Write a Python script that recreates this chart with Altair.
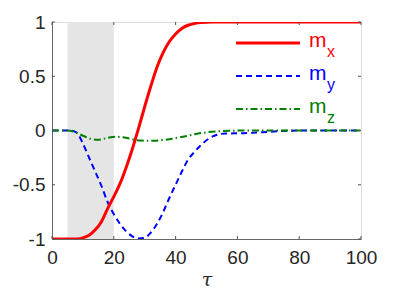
import altair as alt
import pandas as pd

# ---- data ----
mx_t = [0, 8, 10, 12, 14, 16, 18, 20, 22, 24, 26, 28, 30, 32, 34, 36, 38, 40, 42, 44, 46, 48, 52, 60, 100]
mx_v = [-1, -1, -0.99, -0.965, -0.915, -0.84, -0.72, -0.61, -0.49, -0.34, -0.17, 0.02, 0.22, 0.41,
        0.585, 0.72, 0.82, 0.89, 0.94, 0.97, 0.985, 0.995, 1, 1, 1]

my_t = [0, 6, 8, 10, 12, 14, 16, 18, 20, 22, 24, 26, 28, 30, 32, 34, 36, 38, 40, 42, 44, 46,
        48, 50, 52, 54, 56, 62, 68, 74, 80, 100]
my_v = [0, 0, -0.02, -0.12, -0.25, -0.38, -0.51, -0.66, -0.77, -0.86, -0.93, -0.975, -0.995,
        -0.99, -0.94, -0.86, -0.75, -0.62, -0.5, -0.38, -0.27, -0.2, -0.14, -0.09, -0.055,
        -0.035, -0.028, -0.025, -0.016, -0.005, 0, 0]

mz_t = [0, 5, 7, 9, 11, 13, 15, 17, 19, 21, 23, 25, 27, 29, 31, 33, 35, 38, 41, 44, 47, 50,
        54, 58, 65, 100]
mz_v = [0, 0, -0.01, -0.035, -0.06, -0.08, -0.085, -0.075, -0.063, -0.058, -0.062, -0.075,
        -0.087, -0.093, -0.095, -0.094, -0.09, -0.08, -0.065, -0.048, -0.03, -0.017, -0.007,
        -0.002, 0, 0]

shade_start = [5]
shade_end = [20]

x_ticks = [0, 20, 40, 60, 80, 100]
y_ticks = [-1, -0.5, 0, 0.5, 1]

legend_main = ["m", "m", "m"]
legend_sub = ["x", "y", "z"]
series_colors = ["#ff0000", "#0000ff", "#008000"]

W, H = 309, 217
FONT = "Liberation Sans"
AXC = "#262626"

xs = alt.Scale(domain=[0, 100], nice=False)
ys = alt.Scale(domain=[-1, 1], nice=False)

x_axis = alt.Axis(values=x_ticks, tickSize=0, grid=False, labelFontSize=19, labelFont=FONT,
                  labelColor=AXC, labelPadding=9, labelFlush=False, labelOverlap=False,
                  domainColor="#666666", title="τ",
                  titleFont="DejaVu Serif", titleFontSize=19, titleFontStyle="italic",
                  titleFontWeight="normal", titleColor=AXC,
                  titleY=46, titleBaseline="alphabetic")
y_axis = alt.Axis(values=y_ticks, tickSize=0, grid=False, labelFontSize=19, labelFont=FONT,
                  labelColor=AXC, labelPadding=7, labelFlush=False, labelOverlap=False,
                  domainColor="#666666", title=None, labelExpr="datum.value")

shade = alt.Chart(pd.DataFrame({"s": shade_start, "e": shade_end})).mark_rect(
    color="#e5e5e5").encode(
    x=alt.X("s:Q", scale=xs, axis=x_axis), x2="e:Q",
    y=alt.value(0), y2=alt.value(H))


def line(t, v, color, width, dash=None):
    kw = dict(color=color, strokeWidth=width, interpolate="monotone", clip=True)
    if dash is not None:
        kw["strokeDash"] = dash
    return alt.Chart(pd.DataFrame({"t": t, "v": v})).mark_line(**kw).encode(
        x=alt.X("t:Q", scale=xs, axis=x_axis),
        y=alt.Y("v:Q", scale=ys, axis=y_axis))


ly = line(my_t, my_v, series_colors[1], 2, [6, 4])
lz = line(mz_t, mz_v, series_colors[2], 2, [7, 3, 1.5, 3])
lx = line(mx_t, mx_v, series_colors[0], 3)

xt = pd.DataFrame({"t": x_ticks})
yt = pd.DataFrame({"v": y_ticks})
tick_c = "#555555"
ticks = [
    alt.Chart(xt).mark_rule(color=tick_c, strokeWidth=1).encode(
        x=alt.X("t:Q", scale=xs), y=alt.value(H), y2=alt.value(H - 3)),
    alt.Chart(xt).mark_rule(color=tick_c, strokeWidth=1).encode(
        x=alt.X("t:Q", scale=xs), y=alt.value(0), y2=alt.value(3)),
    alt.Chart(yt).mark_rule(color=tick_c, strokeWidth=1).encode(
        y=alt.Y("v:Q", scale=ys), x=alt.value(0), x2=alt.value(3)),
    alt.Chart(yt).mark_rule(color=tick_c, strokeWidth=1).encode(
        y=alt.Y("v:Q", scale=ys), x=alt.value(W), x2=alt.value(W - 3)),
]

dummy = pd.DataFrame({"a": [0]})
legend_layers = []
styles = [dict(strokeWidth=3), dict(strokeWidth=2, strokeDash=[6, 4]),
          dict(strokeWidth=2, strokeDash=[7, 3, 1.5, 3])]
for i in range(3):
    ry = 21 + 33 * i
    legend_layers.append(alt.Chart(dummy).mark_rule(color=series_colors[i], **styles[i]).encode(
        x=alt.value(184), x2=alt.value(248), y=alt.value(ry)))
    legend_layers.append(alt.Chart(dummy).mark_text(
        text=legend_main[i], align="left", baseline="alphabetic", font=FONT, fontSize=21,
        color=series_colors[i]).encode(x=alt.value(257), y=alt.value(ry + 4)))
    legend_layers.append(alt.Chart(dummy).mark_text(
        text=legend_sub[i], align="left", baseline="alphabetic", font=FONT, fontSize=16,
        color=series_colors[i]).encode(x=alt.value(275), y=alt.value(ry + 14)))

chart = alt.layer(shade, ly, lz, lx, *ticks, *legend_layers).properties(
    width=W, height=H,
    autosize=alt.AutoSizeParams(type="none"),
    padding={"left": 44, "top": 14, "right": 30, "bottom": 52},
).configure_view(stroke="#666666", strokeWidth=1).configure(background="white")

chart.save("out.html", embed_options={"renderer": "svg", "actions": False})
